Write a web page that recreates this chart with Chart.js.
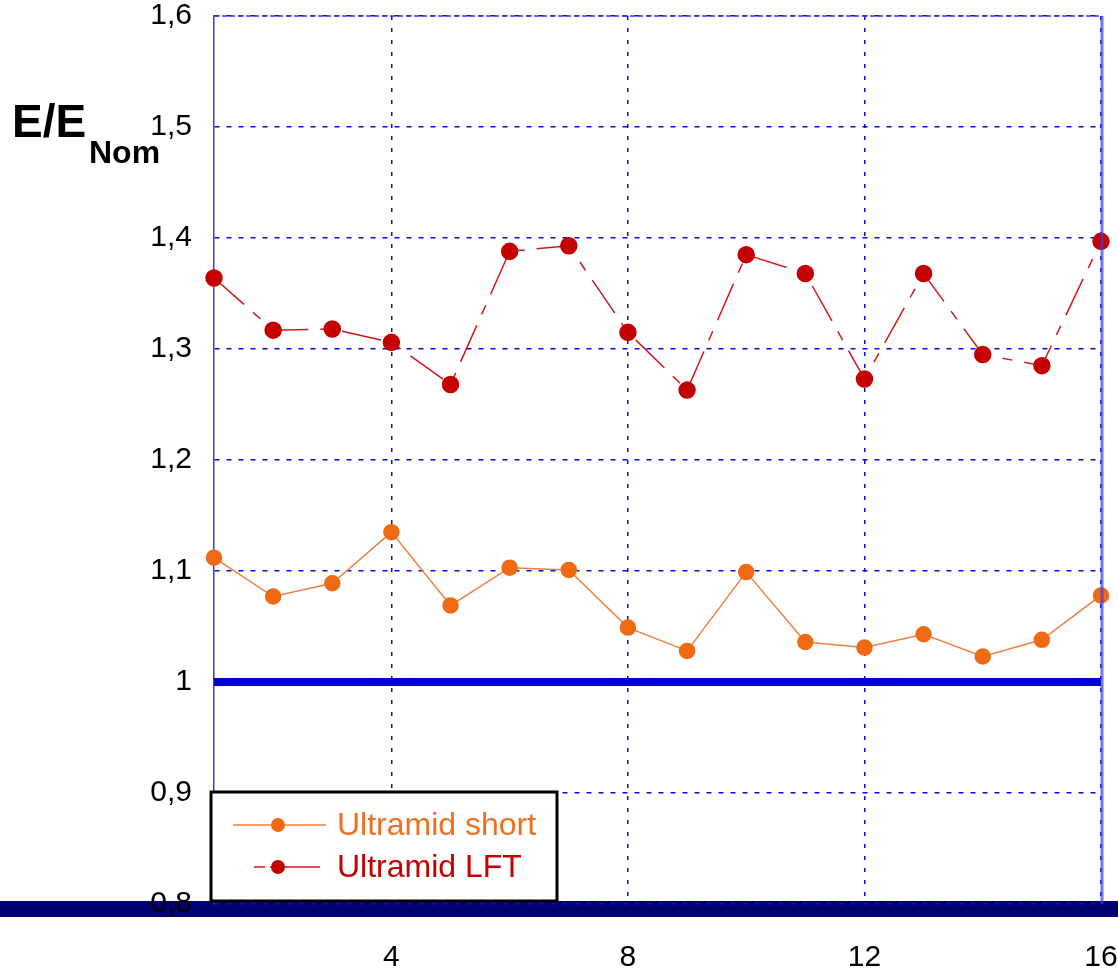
<!DOCTYPE html>
<html>
<head>
<meta charset="utf-8">
<script src="https://cdn.jsdelivr.net/npm/chart.js@4.4.1/dist/chart.umd.min.js"></script>
<style>
  html, body { margin: 0; padding: 0; background: #fff; }
  #wrap { width: 1118px; height: 970px; }
</style>
</head>
<body>
<div id="wrap"><canvas id="myChart" width="1118" height="970"></canvas></div>
<script>
// sample number along the x axis
const samples = [1, 2, 3, 4, 5, 6, 7, 8, 9, 10, 11, 12, 13, 14, 15, 16];
// E / E_Nom ratios
const shortVals = [1.112, 1.077, 1.089, 1.135, 1.069, 1.103, 1.101, 1.049, 1.028, 1.099, 1.036, 1.031, 1.043, 1.023, 1.038, 1.078];
const lftVals = [1.364, 1.317, 1.318, 1.306, 1.268, 1.388, 1.393, 1.315, 1.263, 1.385, 1.368, 1.273, 1.368, 1.295, 1.285, 1.397];
// nominal reference line
const nominalX = [1, 16];
const nominalY = [1, 1];
const xTicks = [4, 8, 12, 16];
const seriesNames = ["Ultramid short", "Ultramid LFT"];
const textColors = ["#f07020", "#c40000"];

const FONT = "'Liberation Sans', Arial, sans-serif";

function pts(xs, ys) {
    return xs.map((x, i) => ({ x: x, y: ys[i] }));
}

// navy band under the plot, drawn before the axes
const bottomBand = {
    id: "bottomBand",
    beforeDraw(chart) {
        const ctx = chart.ctx;
        const a = chart.chartArea;
        ctx.save();
        ctx.fillStyle = "#000070";
        ctx.fillRect(0, a.bottom - 3, chart.width, 16);
        ctx.restore();
    }
};

// right frame line, legend box and the y title
const extras = {
    id: "extras",
    afterDraw(chart) {
        const ctx = chart.ctx;
        const a = chart.chartArea;
        ctx.save();
        // right border
        ctx.strokeStyle = "rgba(60,60,230,0.7)";
        ctx.lineWidth = 3;
        ctx.beginPath();
        ctx.moveTo(a.right + 1, a.top);
        ctx.lineTo(a.right + 1, a.bottom);
        ctx.stroke();
        // top frame
        ctx.strokeStyle = "#3a3ae0";
        ctx.lineWidth = 1.5;
        ctx.setLineDash([5, 3]);
        ctx.beginPath();
        ctx.moveTo(a.left, a.top);
        ctx.lineTo(a.right, a.top);
        ctx.stroke();
        ctx.setLineDash([]);

        // legend
        const lx = a.left - 3, ly = a.bottom - 112, lw = 346, lh = 109;
        ctx.fillStyle = "#fff";
        ctx.fillRect(lx, ly, lw, lh);
        ctx.strokeStyle = "#000";
        ctx.lineWidth = 3;
        ctx.strokeRect(lx, ly, lw, lh);
        const ds = chart.data.datasets;
        for (let i = 0; i < 2; i++) {
            const y = ly + 33 + i * 42;
            ctx.strokeStyle = ds[i].borderColor;
            ctx.lineWidth = 1.5;
            ctx.setLineDash(i === 1 ? [11, 5, 200] : []);
            ctx.beginPath();
            ctx.moveTo(lx + (i === 1 ? 43 : 22), y);
            ctx.lineTo(lx + (i === 1 ? 109 : 115), y);
            ctx.stroke();
            ctx.setLineDash([]);
            ctx.fillStyle = ds[i].pointBackgroundColor;
            ctx.beginPath();
            ctx.arc(lx + 67, y, 7, 0, Math.PI * 2);
            ctx.fill();
            ctx.fillStyle = textColors[i];
            ctx.font = "32px " + FONT;
            ctx.textBaseline = "middle";
            ctx.fillText(seriesNames[i], lx + 126, y + 1);
        }

        // y title E/E_Nom
        ctx.fillStyle = "#000";
        ctx.textBaseline = "alphabetic";
        ctx.font = "bold 46px " + FONT;
        ctx.fillText("E/E", 12, 137);
        ctx.font = "bold 32px " + FONT;
        ctx.fillText("Nom", 89, 163);
        ctx.restore();
    }
};

new Chart("myChart", {
    type: "line",
    data: {
        datasets: [{
            label: seriesNames[0],
            data: pts(samples, shortVals),
            borderColor: "#f08040",
            borderWidth: 1.5,
            pointBackgroundColor: "#f06a14",
            pointBorderColor: "#f06a14",
            pointRadius: 7.5,
            clip: false
        }, {
            label: seriesNames[1],
            data: pts(samples, lftVals),
            borderColor: "#d01818",
            borderWidth: 1.5,
            borderDash: [40, 12, 10, 12],
            pointBackgroundColor: "#c40000",
            pointBorderColor: "#c40000",
            pointRadius: 8,
            clip: false
        }, {
            label: "nominal",
            data: pts(nominalX, nominalY),
            borderColor: "#0000d0",
            borderWidth: 8,
            pointRadius: 0,
            clip: false
        }]
    },
    options: {
        responsive: false,
        animation: false,
        layout: { padding: { top: 16, right: 17, left: 0, bottom: 0 } },
        plugins: {
            legend: { display: false },
            tooltip: { enabled: false }
        },
        scales: {
            x: {
                type: "linear",
                min: 1,
                max: 16,
                afterBuildTicks: (scale) => { scale.ticks = xTicks.map(v => ({ value: v })); },
                afterFit: (scale) => {
                    scale.height = 66;
                    scale.paddingLeft = 0;
                    scale.paddingRight = 0;
                },
                grid: { color: "#0a0ae0", lineWidth: 1.5, drawTicks: false },
                border: { display: false, dash: [4, 8] },
                ticks: {
                    color: "#000",
                    padding: 36,
                    maxRotation: 0,
                    font: { family: FONT, size: 30 }
                }
            },
            y: {
                min: 0.8,
                max: 1.6,
                afterFit: (scale) => {
                    scale.width = 214;
                    scale.paddingTop = 0;
                    scale.paddingBottom = 0;
                },
                grid: { color: "#0a0ae0", lineWidth: 1.5, drawTicks: false },
                border: { display: true, color: "#3a3ae0", width: 1.5, dash: [5, 7] },
                ticks: {
                    stepSize: 0.1,
                    color: "#000",
                    padding: 22,
                    font: { family: FONT, size: 30 },
                    callback: (v) => (Math.round(v * 10) / 10).toString().replace(".", ",")
                }
            }
        }
    },
    plugins: [bottomBand, extras]
});
</script>
</body>
</html>
